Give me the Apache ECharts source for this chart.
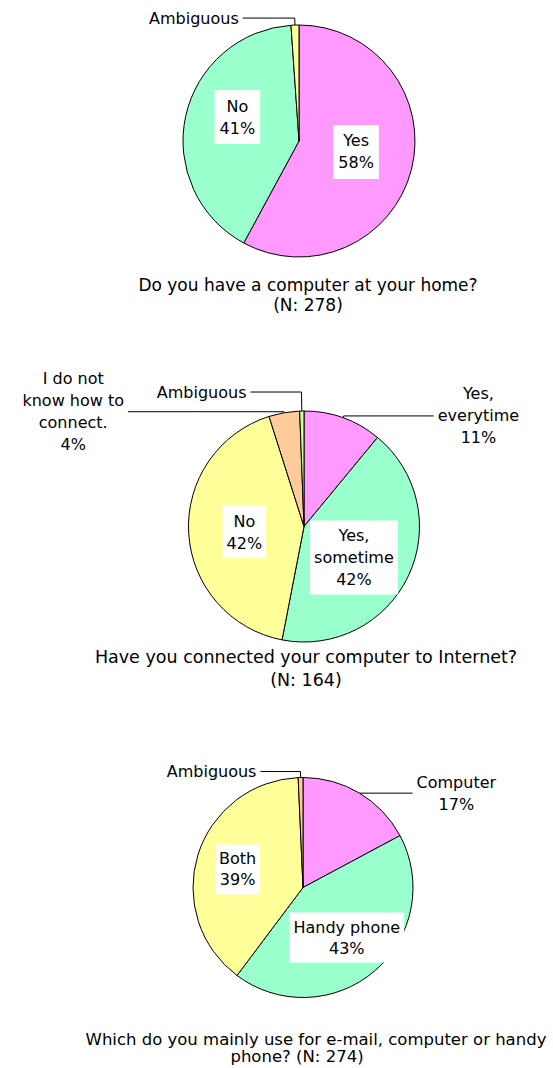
<!DOCTYPE html>
<html>
<head>
<meta charset="utf-8">
<script src="https://cdn.jsdelivr.net/npm/echarts@6/dist/echarts.min.js"></script>
<style>
html,body{margin:0;padding:0;background:#fff;}
#chart{width:553px;height:1068px;}
</style>
</head>
<body>
<div id="chart"></div>
<script>
// ---- data ----
const q1Categories = ['Yes', 'No', 'Ambiguous'];
const q1Labels = ['Yes', 'No', 'Ambiguous'];
const q1Percents = [57.9, 41.0, 1.1];

const q2Categories = ['Yes, everytime', 'Yes, sometime', 'No', 'I do not know how to connect.', 'Ambiguous'];
const q2Labels = ['Yes,\neverytime', 'Yes,\nsometime', 'No', 'I do not\nknow how to\nconnect.', 'Ambiguous'];
const q2Percents = [11.0, 42.1, 42.1, 4.3, 0.6];

const q3Categories = ['Computer', 'Handy phone', 'Both', 'Ambiguous'];
const q3Labels = ['Computer', 'Handy phone', 'Both', 'Ambiguous'];
const q3Percents = [17.2, 43.1, 39.1, 0.7];

const chartTitleLines = [
  ['Do you have a computer at your home?', '(N: 278)'],
  ['Have you connected your computer to Internet?', '(N: 164)'],
  ['Which do you mainly use for e-mail, computer or handy', 'phone? (N: 274)']
];

// ---- styles ----
const FONT = '"DejaVu Sans", "Noto Sans", sans-serif';
const FS = 16;
const PINK = '#FF99FF', GREEN = '#99FFCC', YELLOW = '#FFFF99', ORANGE = '#FFCC99', LIME = '#CCFF99';

function pct(v) { return Math.round(v) + '%'; }

function insideLabel(lineHeight, padding, offset) {
  return {
    label: {
      show: true, position: 'inside', color: '#000', fontFamily: FONT, fontSize: FS,
      lineHeight: lineHeight, backgroundColor: '#fff', padding: padding, offset: offset,
      formatter: p => p.data.labelText + '\n' + pct(p.value)
    },
    labelLine: { show: false }
  };
}
function outsideLabel(withPct, len1, len2) {
  return {
    label: {
      show: true, position: 'outside', color: '#000', fontFamily: FONT, fontSize: FS,
      lineHeight: 23, distanceToLabelLine: 4,
      formatter: p => {
        const lines = p.data.labelText.split('\n');
        if (withPct) lines.push(pct(p.value));
        return lines.map(s => '{c|' + s + '}').join('\n');
      },
      rich: { c: { align: 'center', color: '#000', fontFamily: FONT, fontSize: FS, lineHeight: 22 } }
    },
    labelLine: { show: true, length: len1, length2: len2, smooth: false,
      lineStyle: { color: '#000', width: 1 } }
  };
}

function buildData(cats, labels, vals, colors, labelCfgs) {
  return cats.map((c, i) => Object.assign({
    name: c, value: vals[i], labelText: labels[i],
    itemStyle: { color: colors[i] }
  }, labelCfgs[i]));
}

const baseSeries = {
  type: 'pie', startAngle: 90, clockwise: true, avoidLabelOverlap: false,
  silent: true, animation: false,
  itemStyle: { borderColor: '#000', borderWidth: 1 },
  emphasis: { disabled: true },
  labelLine: { show: false }
};

const series1 = Object.assign({}, baseSeries, {
  center: [299, 141], radius: 116,
  data: buildData(q1Categories, q1Labels, q1Percents, [PINK, GREEN, YELLOW], [
    insideLabel(22, [5, 5], [-2, -4]),
    insideLabel(22, [5, 5], [-2, -11]),
    outsideLabel(false, 7, 52)
  ])
});

const series2 = Object.assign({}, baseSeries, {
  center: [304, 526.5], radius: 115.5,
  data: buildData(q2Categories, q2Labels, q2Percents, [PINK, GREEN, YELLOW, ORANGE, LIME], [
    outsideLabel(true, 2, 90),
    insideLabel(22, [4, 4], [-5, 5]),
    insideLabel(22, [4, 4], [1, 2]),
    outsideLabel(true, 1, 156),
    outsideLabel(false, 19, 51)
  ])
});

const series3 = Object.assign({}, baseSeries, {
  center: [303, 887.5], radius: 110,
  data: buildData(q3Categories, q3Labels, q3Percents, [PINK, GREEN, YELLOW, ORANGE], [
    outsideLabel(true, 0, 53),
    insideLabel(21, [4, 4], [6, 6]),
    insideLabel(21, [4, 4], [-10, -1]),
    outsideLabel(false, 6, 40)
  ])
});

// centre x, middle y and font size of each title line
const titleLineX = [[308, 308], [306, 306], [316, 297]];
const titleLineY = [[285, 305], [657, 680], [1039, 1056]];
const titleFontSize = [17, 17.5, 16.5];

const graphics = [];
chartTitleLines.forEach((lines, i) => lines.forEach((t, j) => graphics.push({
  type: 'text', x: titleLineX[i][j], y: titleLineY[i][j], silent: true,
  style: { text: t, align: 'center', verticalAlign: 'middle', fill: '#000',
    font: titleFontSize[i] + 'px ' + FONT }
})));

const chart = echarts.init(document.getElementById('chart'), null, { renderer: 'svg' });
chart.setOption({
  backgroundColor: '#fff',
  animation: false,
  graphic: graphics,
  series: [series1, series2, series3]
});
</script>
</body>
</html>
